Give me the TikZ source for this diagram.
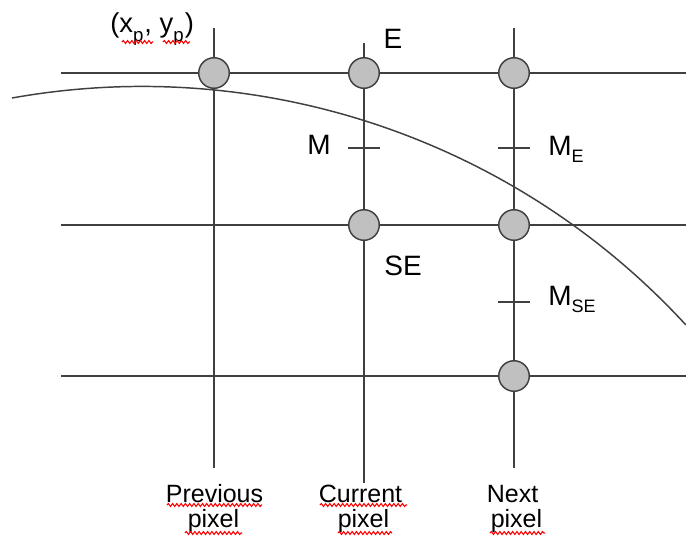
\documentclass[tikz,border=0pt]{standalone}
\usepackage{fontspec}
\setmainfont{Liberation Sans}
\usetikzlibrary{decorations.pathmorphing}
\definecolor{linegray}{HTML}{404040}
\definecolor{dotgray}{HTML}{C0C0C0}
\newcommand\subtxt[1]{\raisebox{-5.3pt}{\fontsize{13.5}{13.5}\selectfont #1}}
\newcommand\subp{\raisebox{-7pt}{\fontsize{14}{14}\selectfont p}}
\begin{document}
\begin{tikzpicture}[x=0.75pt,y=-0.75pt,
  gridline/.style={draw=linegray,line width=1.5pt},
  curveline/.style={draw=linegray,line width=1.1pt},
  pixdot/.style={circle,draw=linegray,fill=dotgray,line width=1.1pt,minimum size=22.9pt,inner sep=0pt},
  bigtxt/.style={inner sep=0pt,font=\fontsize{21}{25}\selectfont},
  smalltxt/.style={inner sep=0pt,font=\fontsize{18.75}{20}\selectfont},
  wavy/.style={draw=red,line width=0.8pt,decorate,decoration={snake,segment length=3.2pt,amplitude=1.1pt}}]
\useasboundingbox (0,0) rectangle (686,536);
% grid end points
\coordinate (h1w) at (61,73);  \coordinate (h1e) at (686,73);
\coordinate (h2w) at (61,225); \coordinate (h2e) at (686,225);
\coordinate (h3w) at (61,376); \coordinate (h3e) at (686,376);
\coordinate (v1n) at (214,28); \coordinate (v1s) at (214,468);
\coordinate (v2n) at (364,43); \coordinate (v2s) at (364,483);
\coordinate (v3n) at (514,28); \coordinate (v3s) at (514,468);
\draw[gridline] (h1w) -- (h1e);
\draw[gridline] (h2w) -- (h2e);
\draw[gridline] (h3w) -- (h3e);
\draw[gridline] (v1n) -- (v1s);
\draw[gridline] (v2n) -- (v2s);
\draw[gridline] (v3n) -- (v3s);
% midpoint ticks
\coordinate (mM) at (364,148);
\coordinate (mE) at (514,148);
\coordinate (mSE) at (514,302);
\draw[gridline] ([xshift=-12pt]mM) -- ([xshift=12pt]mM);
\draw[gridline] ([xshift=-12pt]mE) -- ([xshift=12pt]mE);
\draw[gridline] ([xshift=-12pt]mSE) -- ([xshift=12pt]mSE);
% curve
\coordinate (cstart) at (12,98);
\draw[curveline] (cstart) arc[start angle=-100.15,end angle=-42.64,radius=739];
% pixels
\node[pixdot] (p11) at (214,73) {};
\node[pixdot] (p21) at (364,73) {};
\node[pixdot] (p31) at (514,73) {};
\node[pixdot] (p22) at (364,225) {};
\node[pixdot] (p32) at (514,225) {};
\node[pixdot] (p33) at (514,376) {};
% labels
\node[inner sep=0pt,font=\fontsize{20.5}{24}\selectfont,anchor=base west] (lxy) at (110,32)
  {(x\subp\hspace{0.8pt}, y\subp\hspace{0.8pt})};
\node[bigtxt] (lE) at (393,38.5) {E};
\node[bigtxt] (lM) at (319,145) {M};
\node[bigtxt,anchor=base west] (lME) at (548,155) {M\subtxt{E}};
\node[bigtxt] (lSE) at (403,266) {SE};
\node[bigtxt,anchor=base west] (lMSE) at (548,305) {M\subtxt{SE}};
\node[smalltxt,anchor=base] (lprev) at (214.5,502) {Previous};
\node[smalltxt,anchor=base] (lprevp) at (213.5,527) {pixel};
\node[smalltxt,anchor=base] (lcur) at (360.5,502) {Current};
\node[smalltxt,anchor=base] (lcurp) at (363.5,527) {pixel};
\node[smalltxt,anchor=base] (lnext) at (512.5,502) {Next};
\node[smalltxt,anchor=base] (lnextp) at (516.5,527) {pixel};
% spell-check underlines
\draw[wavy] (122,42) -- (153,42);
\draw[wavy] (163,42) -- (190,42);
\draw[wavy] (167,505) -- (262,505);
\draw[wavy] (185,533) -- (242,533);
\draw[wavy] (320,505) -- (407,505);
\draw[wavy] (338,533) -- (392,533);
\draw[wavy] (490,533) -- (545,533);
\end{tikzpicture}
\end{document}
